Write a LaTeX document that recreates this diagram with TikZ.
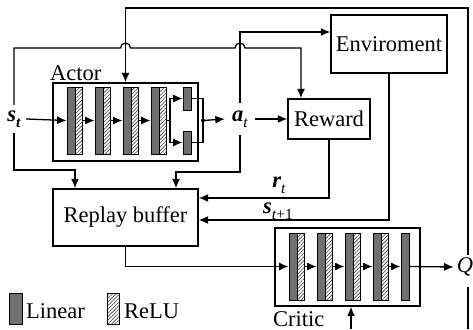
\documentclass[tikz,border=0pt]{standalone}
\usepackage{fontspec}
\setmainfont{Liberation Serif}
\usetikzlibrary{arrows.meta,patterns.meta}
\definecolor{lingray}{RGB}{112,112,112}
\newcommand\subtx[1]{\raisebox{-0.28em}{\fontsize{15.5}{15.5}\selectfont #1}}
\begin{document}
\begin{tikzpicture}[x=1pt,y=-1pt,
  every node/.style={font=\fontsize{22.5}{27}\selectfont},
  conn/.style={line width=1.3pt},
  arr/.style={conn,-{Latex[length=9.5pt,width=8pt]}},
  box/.style={draw,line width=1.4pt,inner sep=0pt},
  lin/.style={draw,line width=0.9pt,fill=lingray,inner sep=0pt,minimum width=8pt},
  relu/.style={draw,line width=0.9pt,pattern={Lines[angle=45,distance=2.6pt,line width=0.6pt]},pattern color=black!75,inner sep=0pt,minimum width=7pt},
  lbl/.style={inner sep=0pt}]
\useasboundingbox (0,0) rectangle (473,329);

% Actor
\node[box,minimum width=145pt,minimum height=78pt] (ac) at (125.5,122) {};
\node[lbl,anchor=base west] (aclbl) at (50,80) {Actor};
\foreach \i/\x in {1/71,2/99,3/127,4/155}{
  \node[lin,minimum height=67pt] (al\i) at (\x,120.5) {};
  \node[relu,minimum height=67pt] (ar\i) at (\x+7.5,120.5) {};
}
\foreach \i/\j in {1/2,2/3,3/4} \draw[arr] (ar\i.east) -- (al\j.west);
\node[lin,minimum height=23pt] (o1) at (187,98.5) {};
\node[lin,minimum height=23pt] (o2) at (187,142.5) {};
\coordinate (sp) at (170,120.5);
\coordinate (jn) at (203,120.5);
\draw[conn] (ar4.east) -- (sp);
\draw[arr] (sp) |- (o1.west);
\draw[arr] (sp) |- (o2.west);
\draw[conn] (o1.east) -| (jn);
\draw[conn] (o2.east) -| (jn);
\fill (jn) circle (2pt);

% labels
\node[lbl,minimum height=28pt,minimum width=24pt] (st) at (14,119) {{\bfseries\itshape s}\subtx{\bfseries\itshape t}};
\node[lbl,minimum height=32pt,minimum width=30pt] (at) at (240,119) {{\bfseries\itshape a}\subtx{\itshape t}};
\node[lbl] (rt) at (279,185) {{\bfseries\itshape r}\subtx{\itshape t}};
\node[lbl] (st1) at (278,211) {{\bfseries\itshape s}\subtx{\itshape t\upshape +1}};
\node[lbl,inner sep=3pt] (Q) at (465,267) {\itshape Q};

% Boxes
\node[box,minimum width=82pt,minimum height=40pt] (rw) at (329,119) {Reward};
\node[box,minimum width=116pt,minimum height=58pt] (env) at (389,44) {Enviroment};
\node[box,minimum width=145pt,minimum height=57pt] (rb) at (125.5,217.5) {Replay buffer};

% Critic
\node[box,minimum width=145pt,minimum height=78pt] (cr) at (347.5,267) {};
\node[lbl,anchor=base west] (crlbl) at (273,326) {Critic};
\foreach \i/\x in {1/293,2/321,3/349,4/377}{
  \node[lin,minimum height=67pt] (cl\i) at (\x,266.5) {};
  \node[relu,minimum height=67pt] (cx\i) at (\x+7.5,266.5) {};
}
\node[lin,minimum height=67pt] (cl5) at (405,266.5) {};
\foreach \i/\j in {1/2,2/3,3/4,4/5} \draw[arr] (cx\i.east) -- (cl\j.west);

% Legend
\node[lin,minimum width=13pt,minimum height=31pt] (lg1) at (15.5,308.5) {};
\node[lbl,anchor=base west] (lg1t) at (26,318) {Linear};
\node[relu,minimum width=12pt,minimum height=31pt] (lg2) at (113,308.5) {};
\node[lbl,anchor=base west] (lg2t) at (124,318) {ReLU};

% Connectors
\draw[arr] (st.east) -- (al1.west);
\draw[arr] (jn) -- (at.west);
\draw[arr] (at.east) -- (rw.west);

\coordinate (k1) at (14,48);
\coordinate (k2) at (301,48);
\draw[arr] (st.north) -- (k1) -- (120.5,48) arc[start angle=180,end angle=0,radius=5pt]
  -- (235,48) arc[start angle=180,end angle=0,radius=5pt] -- (k2) -- (rw.north -| k2);

\coordinate (k3) at (14,170);
\coordinate (k4) at (75,170);
\draw[arr] (st.south) -- (k3) -- (k4) -- (rb.north -| k4);

\coordinate (k8) at (240,32);
\draw[arr] (at.north) -- (k8) -- (k8 -| env.west);

\coordinate (k9) at (240,172);
\coordinate (k10) at (176,172);
\draw[arr] (at.south) -- (k9) -- (k10) -- (rb.north -| k10);

\coordinate (r1) at (329,198);
\draw[arr] (rw.south) -- (r1) -- (rb.east |- r1);
\coordinate (e1) at (389,220);
\draw[arr] (env.south) -- (e1) -- (rb.east |- e1);

\coordinate (k5) at (125.5,266.5);
\draw[arr] (rb.south) -- (k5) -- (cl1.west);
\draw[arr] (cl5.east) -- (Q.west);

\coordinate (qtop) at (468,255);
\coordinate (qbot) at (468,287);
\coordinate (k6) at (468,8);
\coordinate (k7) at (125.5,8);
\draw[arr] (qtop) -- (k6) -- (k7) -- (ac.north);
\draw[conn] (qbot) -- (468,329);
\coordinate (cb) at (351,329);
\draw[arr] (cb) -- (cr.south -| cb);
\end{tikzpicture}
\end{document}
